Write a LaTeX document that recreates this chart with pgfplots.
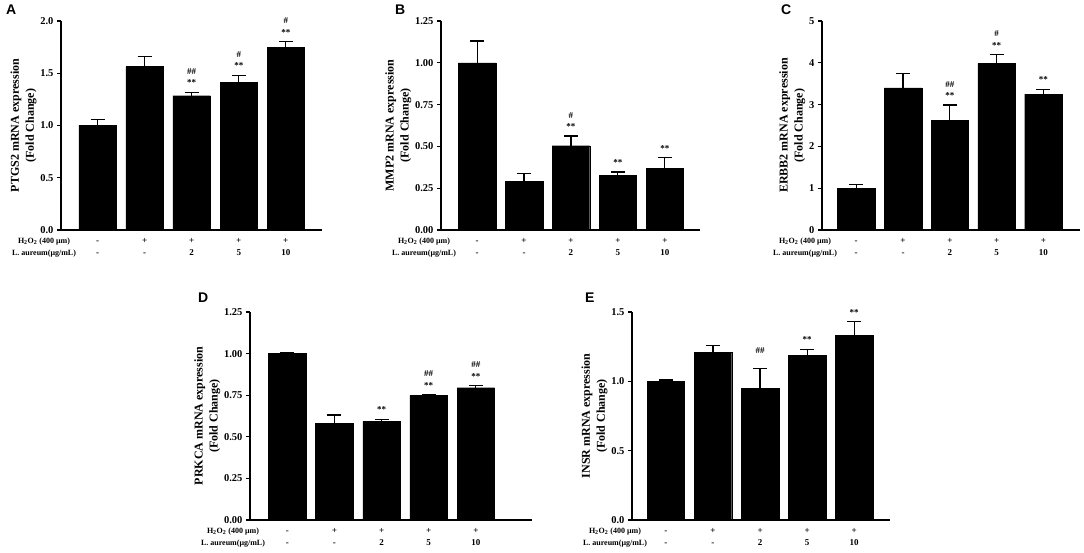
\documentclass[border=0pt]{standalone}
\usepackage{fontspec}
\setmainfont{Liberation Serif}
\newfontfamily\panelfont{Liberation Sans}
\usepackage{pgfplots}
\usepackage{pgfplotstable}
\pgfplotsset{compat=1.18}

\newcommand\tickfont{\bfseries\fontsize{10.5}{12}\selectfont}
\newcommand\labfont{\bfseries\fontsize{12}{15}\selectfont}
\newcommand\catfont{\bfseries\fontsize{9}{12}\selectfont}
\newcommand\rowfont{\bfseries\fontsize{8}{12}\selectfont}
\newcommand\annfont{\bfseries\fontsize{9}{10}\selectfont}
\newcommand\letter{\panelfont\bfseries\fontsize{14}{14}\selectfont}

% columns: group, mean, SD (upper error only)
\pgfplotstableread{
x y e
0 1.000 0.060
1 1.563 0.100
2 1.285 0.030
3 1.413 0.064
4 1.751 0.050
}\dataA
\pgfplotstableread{
x y e
0 1.000 0.130
1 0.293 0.044
2 0.504 0.058
3 0.327 0.020
4 0.367 0.065
}\dataB
\pgfplotstableread{
x y e
0 1.00 0.09
1 3.40 0.34
2 2.62 0.37
3 3.98 0.21
4 3.25 0.12
}\dataC
\pgfplotstableread{
x y e
0 1.000 0.006
1 0.581 0.050
2 0.591 0.014
3 0.747 0.005
4 0.795 0.012
}\dataD
\pgfplotstableread{
x y e
0 1.000 0.010
1 1.210 0.050
2 0.947 0.147
3 1.185 0.046
4 1.334 0.096
}\dataE

\pgfplotsset{
  panel/.style={
    scale only axis, anchor=south west, clip=false,
    axis lines=left, axis line style={-, line width=1.2pt},
    ymin=0,
    xtick={0,...,4},
    xticklabels={{\strut-\\\strut-},{\strut+\\\strut-},{\strut+\\\strut2},{\strut+\\\strut5},{\strut+\\\strut10}},
    x tick label style={align=center, font=\catfont, inner sep=0pt, anchor=north, yshift=-1pt},
    xtick style={draw=none},
    tick align=outside, major tick length=4pt,
    ytick style={line width=1.2pt, black},
    y tick label style={font=\tickfont, /pgf/number format/assume math mode=true},
    ylabel style={align=center, font=\labfont}, ylabel shift=-3pt,
  },
  bars/.style={ybar, bar width=37.5pt, bar shift=0pt, fill=black, draw=black,
    error bars/.cd, y dir=plus, y explicit,
    error bar style={line width=1.2pt, black},
    error mark options={rotate=90, mark size=7pt, line width=1.2pt, black}},
  stars/.style={draw=none, nodes near coords, point meta=explicit symbolic,
    every node near coord/.style={anchor=base, inner sep=0pt, yshift=6.7pt, font=\annfont}},
  hashes/.style={draw=none, nodes near coords, point meta=explicit symbolic,
    every node near coord/.style={anchor=base, inner sep=0pt, yshift=#1, font=\annfont}},
  hashes/.default=17.9pt,
}

\newcommand\rowlabels{%
  \node[anchor=north, align=center, font=\rowfont, inner sep=0pt, xshift=-17pt, yshift=-5pt]
    at (rel axis cs:0,0) {\strut H\textsubscript{2}O\textsubscript{2} (400 μm)\\\strut L. aureum(μg/mL)};}

\begin{document}
\begin{tikzpicture}
\path[use as bounding box] (0,0) rectangle (1084pt,552pt);

% A
\begin{axis}[panel, at={(61pt,322pt)}, width=261pt, height=209pt,
  xmin=-0.78, xmax=4.77, ymax=2, ytick={0,0.5,...,2},
  yticklabel style={/pgf/number format/.cd, fixed, fixed zerofill, precision=1},
  ylabel={PTGS2 mRNA expression\\(Fold Change)}]
\addplot[bars] table[x=x, y=y, y error=e] {\dataA};
\addplot[stars] coordinates {(2,1.315)[**] (3,1.477)[**] (4,1.801)[**]};
\addplot[hashes] coordinates {(2,1.315)[\#\#] (3,1.477)[\#] (4,1.801)[\#]};
\rowlabels
\end{axis}

% B
\begin{axis}[panel, at={(441pt,322pt)}, width=259pt, height=209pt,
  xmin=-0.77, xmax=4.75, ymax=1.25, ytick={0,0.25,...,1.25},
  yticklabel style={/pgf/number format/.cd, fixed, fixed zerofill, precision=2},
  ylabel={MMP2 mRNA expression\\(Fold Change)}]
\addplot[bars] table[x=x, y=y, y error=e] {\dataB};
\addplot[stars] coordinates {(2,0.562)[**] (3,0.347)[**] (4,0.432)[**]};
\addplot[hashes] coordinates {(2,0.562)[\#]};
\rowlabels
\end{axis}

% C
\begin{axis}[panel, at={(822pt,322pt)}, width=258pt, height=209pt,
  xmin=-0.73, xmax=4.78, ymax=5, ytick={0,...,5},
  ylabel={ERBB2 mRNA expression\\(Fold Change)}]
\addplot[bars] table[x=x, y=y, y error=e] {\dataC};
\addplot[stars] coordinates {(2,2.99)[**] (3,4.19)[**] (4,3.37)[**]};
\addplot[hashes] coordinates {(2,2.99)[\#\#] (3,4.19)[\#]};
\rowlabels
\end{axis}

% D
\begin{axis}[panel, at={(250pt,32pt)}, width=282pt, height=208pt,
  xmin=-0.79, xmax=5.19, ymax=1.25, ytick={0,0.25,...,1.25},
  yticklabel style={/pgf/number format/.cd, fixed, fixed zerofill, precision=2},
  ylabel={PRKCA mRNA expression\\(Fold Change)}]
\addplot[bars] table[x=x, y=y, y error=e] {\dataD};
\addplot[stars] coordinates {(2,0.605)[**] (3,0.752)[**] (4,0.807)[**]};
\addplot[hashes] coordinates {(3,0.752)[\#\#] (4,0.807)[\#\#]};
\rowlabels
\end{axis}

% E
\begin{axis}[panel, at={(632pt,32pt)}, width=258pt, height=208pt,
  xmin=-0.72, xmax=4.76, ymax=1.5, ytick={0,0.5,1,1.5},
  yticklabel style={/pgf/number format/.cd, fixed, fixed zerofill, precision=1},
  ylabel={INSR mRNA expression\\(Fold Change)}]
\addplot[bars] table[x=x, y=y, y error=e] {\dataE};
\addplot[stars] coordinates {(3,1.231)[**] (4,1.430)[**]};
\addplot[hashes=14.5pt] coordinates {(2,1.094)[\#\#]};
\rowlabels
\end{axis}

\node[anchor=north west, inner sep=0pt, font=\letter] at (6pt,547pt) {A};
\node[anchor=north west, inner sep=0pt, font=\letter] at (395pt,547pt) {B};
\node[anchor=north west, inner sep=0pt, font=\letter] at (781pt,547pt) {C};
\node[anchor=north west, inner sep=0pt, font=\letter] at (198pt,259pt) {D};
\node[anchor=north west, inner sep=0pt, font=\letter] at (585pt,259pt) {E};
\end{tikzpicture}
\end{document}
